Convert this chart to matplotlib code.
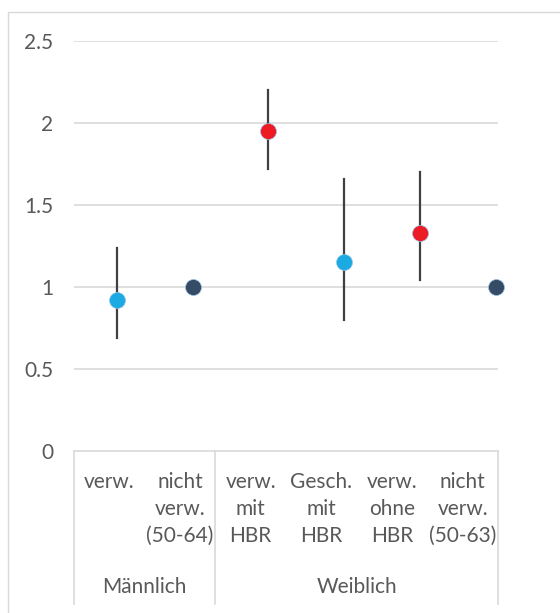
import numpy as np
import matplotlib
matplotlib.use('Agg')
import matplotlib.pyplot as plt
from matplotlib.patches import Rectangle

plt.rcParams['font.family'] = ['Lato', 'DejaVu Sans']

# data
categories = ['verw.', 'nicht\nverw.\n(50-64)', 'verw.\nmit\nHBR', 'Gesch.\nmit\nHBR',
              'verw.\nohne\nHBR', 'nicht\nverw.\n(50-63)']
groups = ['Männlich', 'Weiblich']
group_sizes = [2, 4]
values = [0.92, 1.00, 1.95, 1.15, 1.33, 1.00]
err_low = [0.69, np.nan, 1.72, 0.80, 1.04, np.nan]
err_high = [1.24, np.nan, 2.20, 1.66, 1.70, np.nan]
point_colors = ['#1BABE2', '#354B66', '#ED1C24', '#1BABE2', '#ED1C24', '#354B66']
yticks = [0, 0.5, 1, 1.5, 2, 2.5]

W, H = 560, 613
text_col = '#595959'
grid_col = '#D9D9D9'
fs = 15

fig = plt.figure(figsize=(W / 100, H / 100), dpi=100)
fig.add_artist(Rectangle((8 / W, -0.05), 1.2, 1.05 - 12 / H, transform=fig.transFigure,
                         fill=False, edgecolor=grid_col, linewidth=1))

left, right, top, bottom = 74, 498, 41, 451
ax = fig.add_axes([left / W, 1 - bottom / H, (right - left) / W, (bottom - top) / H])
ax.set_xlim(0, len(categories))
ax.set_ylim(0, 2.5)
for s in ax.spines.values():
    s.set_visible(False)
ax.set_yticks(yticks)
ax.set_yticklabels(['0', '0.5', '1', '1.5', '2', '2.5'])
ax.tick_params(axis='y', length=0, pad=15, labelsize=fs, labelcolor=text_col)
ax.set_xticks([])
for y in yticks[1:]:
    ax.axhline(y, color=grid_col, linewidth=1.2, zorder=0)

ax_h = bottom - top
trans = ax.get_xaxis_transform()
# category box
depth = -153 / ax_h
ax.plot([0, len(categories)], [0, 0], transform=trans, color=grid_col, lw=1.2, clip_on=False)
edges = np.concatenate([[0], np.cumsum(group_sizes)])
for e in edges:
    ax.plot([e, e], [0, depth], transform=trans, color=grid_col, lw=1.2, clip_on=False)

for i, lab in enumerate(categories):
    ax.text(i + 0.5, -21 / ax_h, lab, transform=trans, ha='center', va='top',
            fontsize=fs, color=text_col, linespacing=1.43)
for g, lab in enumerate(groups):
    ax.text((edges[g] + edges[g + 1]) / 2, -136 / ax_h, lab, transform=trans,
            ha='center', va='center', fontsize=fs, color=text_col)

# scatter points on their own x scale
ax2 = ax.twiny()
ax2.set_xlim(0.432, 6.033)
ax2.set_ylim(0, 2.5)
ax2.axis('off')
xs = np.arange(1, len(values) + 1)
for x, v, lo, hi, c in zip(xs, values, err_low, err_high, point_colors):
    if not np.isnan(lo):
        ax2.plot([x, x], [lo, hi], color='#404040', lw=1.6, zorder=2, clip_on=False)
    ax2.plot(x, v, 'o', ms=11.5, color=c, mec='#9DC3E6', mew=0.5, zorder=3, clip_on=False)

fig.savefig('out.png', dpi=100)
